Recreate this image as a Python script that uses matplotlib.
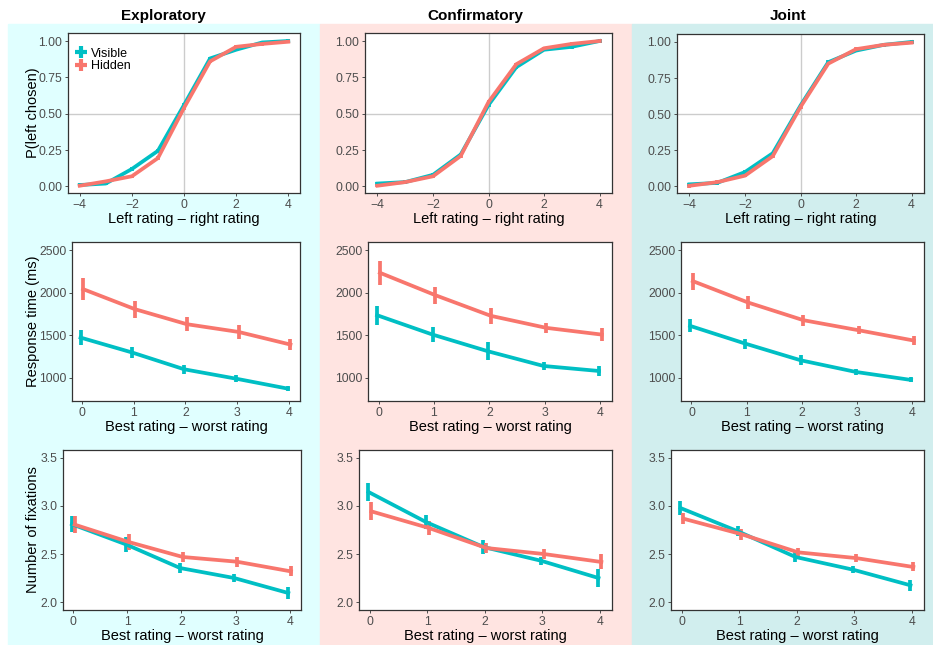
import matplotlib
matplotlib.use("Agg")
import matplotlib.pyplot as plt
from matplotlib.lines import Line2D
from matplotlib.patches import Rectangle
import numpy as np

plt.rcParams["font.family"] = ["Liberation Sans", "DejaVu Sans"]

W, H = 933, 645

studies = ["Exploratory", "Confirmatory", "Joint"]
conditions = ["Visible", "Hidden"]
colors = {"Visible": "#00BFC4", "Hidden": "#F8766D"}
bg_colors = ["#E0FFFF", "#FFE4E1", "#D1EEEE"]

# row 1: choice curves
rating_diff = [-4, -3, -2, -1, 0, 1, 2, 3, 4]
p_left = {
    "Exploratory": {
        "Visible": [0.01, 0.02, 0.12, 0.245, 0.56, 0.88, 0.94, 0.99, 1.00],
        "Hidden": [0.005, 0.035, 0.07, 0.195, 0.54, 0.86, 0.96, 0.98, 0.995],
    },
    "Confirmatory": {
        "Visible": [0.02, 0.03, 0.08, 0.22, 0.56, 0.82, 0.94, 0.96, 1.00],
        "Hidden": [0.005, 0.03, 0.07, 0.21, 0.58, 0.84, 0.95, 0.98, 1.00],
    },
    "Joint": {
        "Visible": [0.015, 0.025, 0.10, 0.23, 0.56, 0.86, 0.94, 0.98, 1.00],
        "Hidden": [0.005, 0.03, 0.075, 0.21, 0.55, 0.85, 0.95, 0.98, 0.995],
    },
}
p_left_se = 0.012

# rows 2-3: best - worst
best_worst = [0, 1, 2, 3, 4]
rt_mean = {
    "Exploratory": {
        "Visible": [1474, 1298, 1102, 992, 875],
        "Hidden": [2042, 1807, 1631, 1540, 1392],
    },
    "Confirmatory": {
        "Visible": [1736, 1509, 1313, 1141, 1082],
        "Hidden": [2234, 1971, 1729, 1588, 1509],
    },
    "Joint": {
        "Visible": [1611, 1403, 1208, 1071, 977],
        "Hidden": [2136, 1885, 1678, 1560, 1439],
    },
}
rt_err = {
    "Exploratory": {
        "Visible": [92, 68, 50, 40, 31],
        "Hidden": [130, 100, 80, 78, 60],
    },
    "Confirmatory": {
        "Visible": [113, 92, 104, 49, 59],
        "Hidden": [143, 100, 92, 60, 75],
    },
    "Joint": {
        "Visible": [76, 59, 59, 31, 29],
        "Hidden": [100, 72, 63, 49, 53],
    },
}
fix_mean = {
    "Exploratory": {
        "Visible": [2.81, 2.60, 2.354, 2.25, 2.094],
        "Hidden": [2.806, 2.625, 2.469, 2.42, 2.319],
    },
    "Confirmatory": {
        "Visible": [3.146, 2.833, 2.573, 2.43, 2.25],
        "Hidden": [2.944, 2.771, 2.5625, 2.50, 2.417],
    },
    "Joint": {
        "Visible": [2.979, 2.736, 2.469, 2.337, 2.174],
        "Hidden": [2.868, 2.708, 2.517, 2.458, 2.365],
    },
}
fix_err = {
    "Exploratory": {
        "Visible": [0.085, 0.08, 0.055, 0.042, 0.06],
        "Hidden": [0.09, 0.08, 0.057, 0.052, 0.052],
    },
    "Confirmatory": {
        "Visible": [0.095, 0.076, 0.075, 0.043, 0.092],
        "Hidden": [0.094, 0.07, 0.057, 0.057, 0.078],
    },
    "Joint": {
        "Visible": [0.07, 0.052, 0.05, 0.035, 0.054],
        "Hidden": [0.06, 0.057, 0.043, 0.042, 0.047],
    },
}

# panel boxes in pixels: left, top, right, bottom
panel_px = [
    [(68, 33, 300, 193), (365, 33, 612, 193), (677, 34, 924, 193)],
    [(72, 242, 300, 401), (368, 242, 612, 401), (681, 242, 924, 401)],
    [(63, 450, 301, 610), (359, 450, 612, 610), (671, 450, 924, 610)],
]
bg_px = [(8, 320), (320, 632), (632, 933)]
title_x = [163, 475, 788]
dodge = {"Visible": -0.025, "Hidden": 0.025}


def to_fig(l, t, r, b):
    return [l / W, 1 - b / H, (r - l) / W, (b - t) / H]


def style_axes(ax):
    ax.set_facecolor("white")
    for s in ax.spines.values():
        s.set_color("#333333")
        s.set_linewidth(0.9)
    ax.tick_params(colors="#4D4D4D", labelsize=8.8, length=2.5, width=0.7, pad=1.5)


fig = plt.figure(figsize=(W / 100, H / 100), dpi=100)
fig.patch.set_facecolor("white")

for j, (x0, x1) in enumerate(bg_px):
    fig.patches.append(Rectangle((x0 / W, 0), (x1 - x0) / W, 1 - 24 / H,
                                 transform=fig.transFigure, color=bg_colors[j], zorder=-5))
    fig.text(title_x[j] / W, 1 - 16 / H, studies[j], ha="center", va="center",
             fontsize=11, fontweight="bold")

lw = 2.7
for j, study in enumerate(studies):
    # row 1
    ax = fig.add_axes(to_fig(*panel_px[0][j]))
    style_axes(ax)
    ax.axvline(0, color="#CCCCCC", lw=1.0, zorder=1)
    ax.axhline(0.5, color="#CCCCCC", lw=1.0, zorder=1)
    for c in conditions:
        y = np.array(p_left[study][c])
        ax.errorbar(rating_diff, y, yerr=p_left_se, color=colors[c], lw=lw,
                    elinewidth=lw, capsize=0, zorder=3)
    ax.set_xlim(-4.45, 4.45)
    ax.set_ylim(-0.045, 1.055)
    ax.set_xticks([-4, -2, 0, 2, 4])
    ax.set_yticks([0, 0.25, 0.5, 0.75, 1.0])
    ax.set_yticklabels(["0.00", "0.25", "0.50", "0.75", "1.00"])
    ax.set_xlabel("Left rating – right rating", fontsize=10.5, labelpad=1)
    if j == 0:
        handles = [Line2D([], [], color=colors[c], marker="+", markersize=9,
                          markeredgewidth=3, linestyle="none") for c in conditions]
        ax.legend(handles, conditions, loc="upper left", frameon=False, fontsize=9,
                  handletextpad=0.2, labelspacing=0.05, borderaxespad=0.0,
                  handlelength=1.2, bbox_to_anchor=(0.0, 0.94))

    # row 2
    ax = fig.add_axes(to_fig(*panel_px[1][j]))
    style_axes(ax)
    for c in conditions:
        xs = np.array(best_worst) + dodge[c]
        ax.errorbar(xs, rt_mean[study][c], yerr=rt_err[study][c], color=colors[c],
                    lw=lw, elinewidth=lw, capsize=0, zorder=3)
    ax.set_xlim(-0.19, 4.21)
    ax.set_ylim(730, 2595)
    ax.set_xticks(best_worst)
    ax.set_yticks([1000, 1500, 2000, 2500])
    ax.set_xlabel("Best rating – worst rating", fontsize=10.5, labelpad=1)

    # row 3
    ax = fig.add_axes(to_fig(*panel_px[2][j]))
    style_axes(ax)
    for c in conditions:
        xs = np.array(best_worst) + dodge[c]
        ax.errorbar(xs, fix_mean[study][c], yerr=fix_err[study][c], color=colors[c],
                    lw=lw, elinewidth=lw, capsize=0, zorder=3)
    ax.set_xlim(-0.19, 4.21)
    ax.set_ylim(1.917, 3.583)
    ax.set_xticks(best_worst)
    ax.set_yticks([2.0, 2.5, 3.0, 3.5])
    ax.set_yticklabels(["2.0", "2.5", "3.0", "3.5"])
    ax.set_xlabel("Best rating – worst rating", fontsize=10.5, labelpad=1)

ylabels = ["P(left chosen)", "Response time (ms)", "Number of fixations"]
for i, lab in enumerate(ylabels):
    l, t, r, b = panel_px[i][0]
    fig.text(33 / W, 1 - ((t + b) / 2) / H, lab, rotation=90, ha="center",
             va="center", fontsize=10.5)

fig.savefig("out.png", dpi=100)
